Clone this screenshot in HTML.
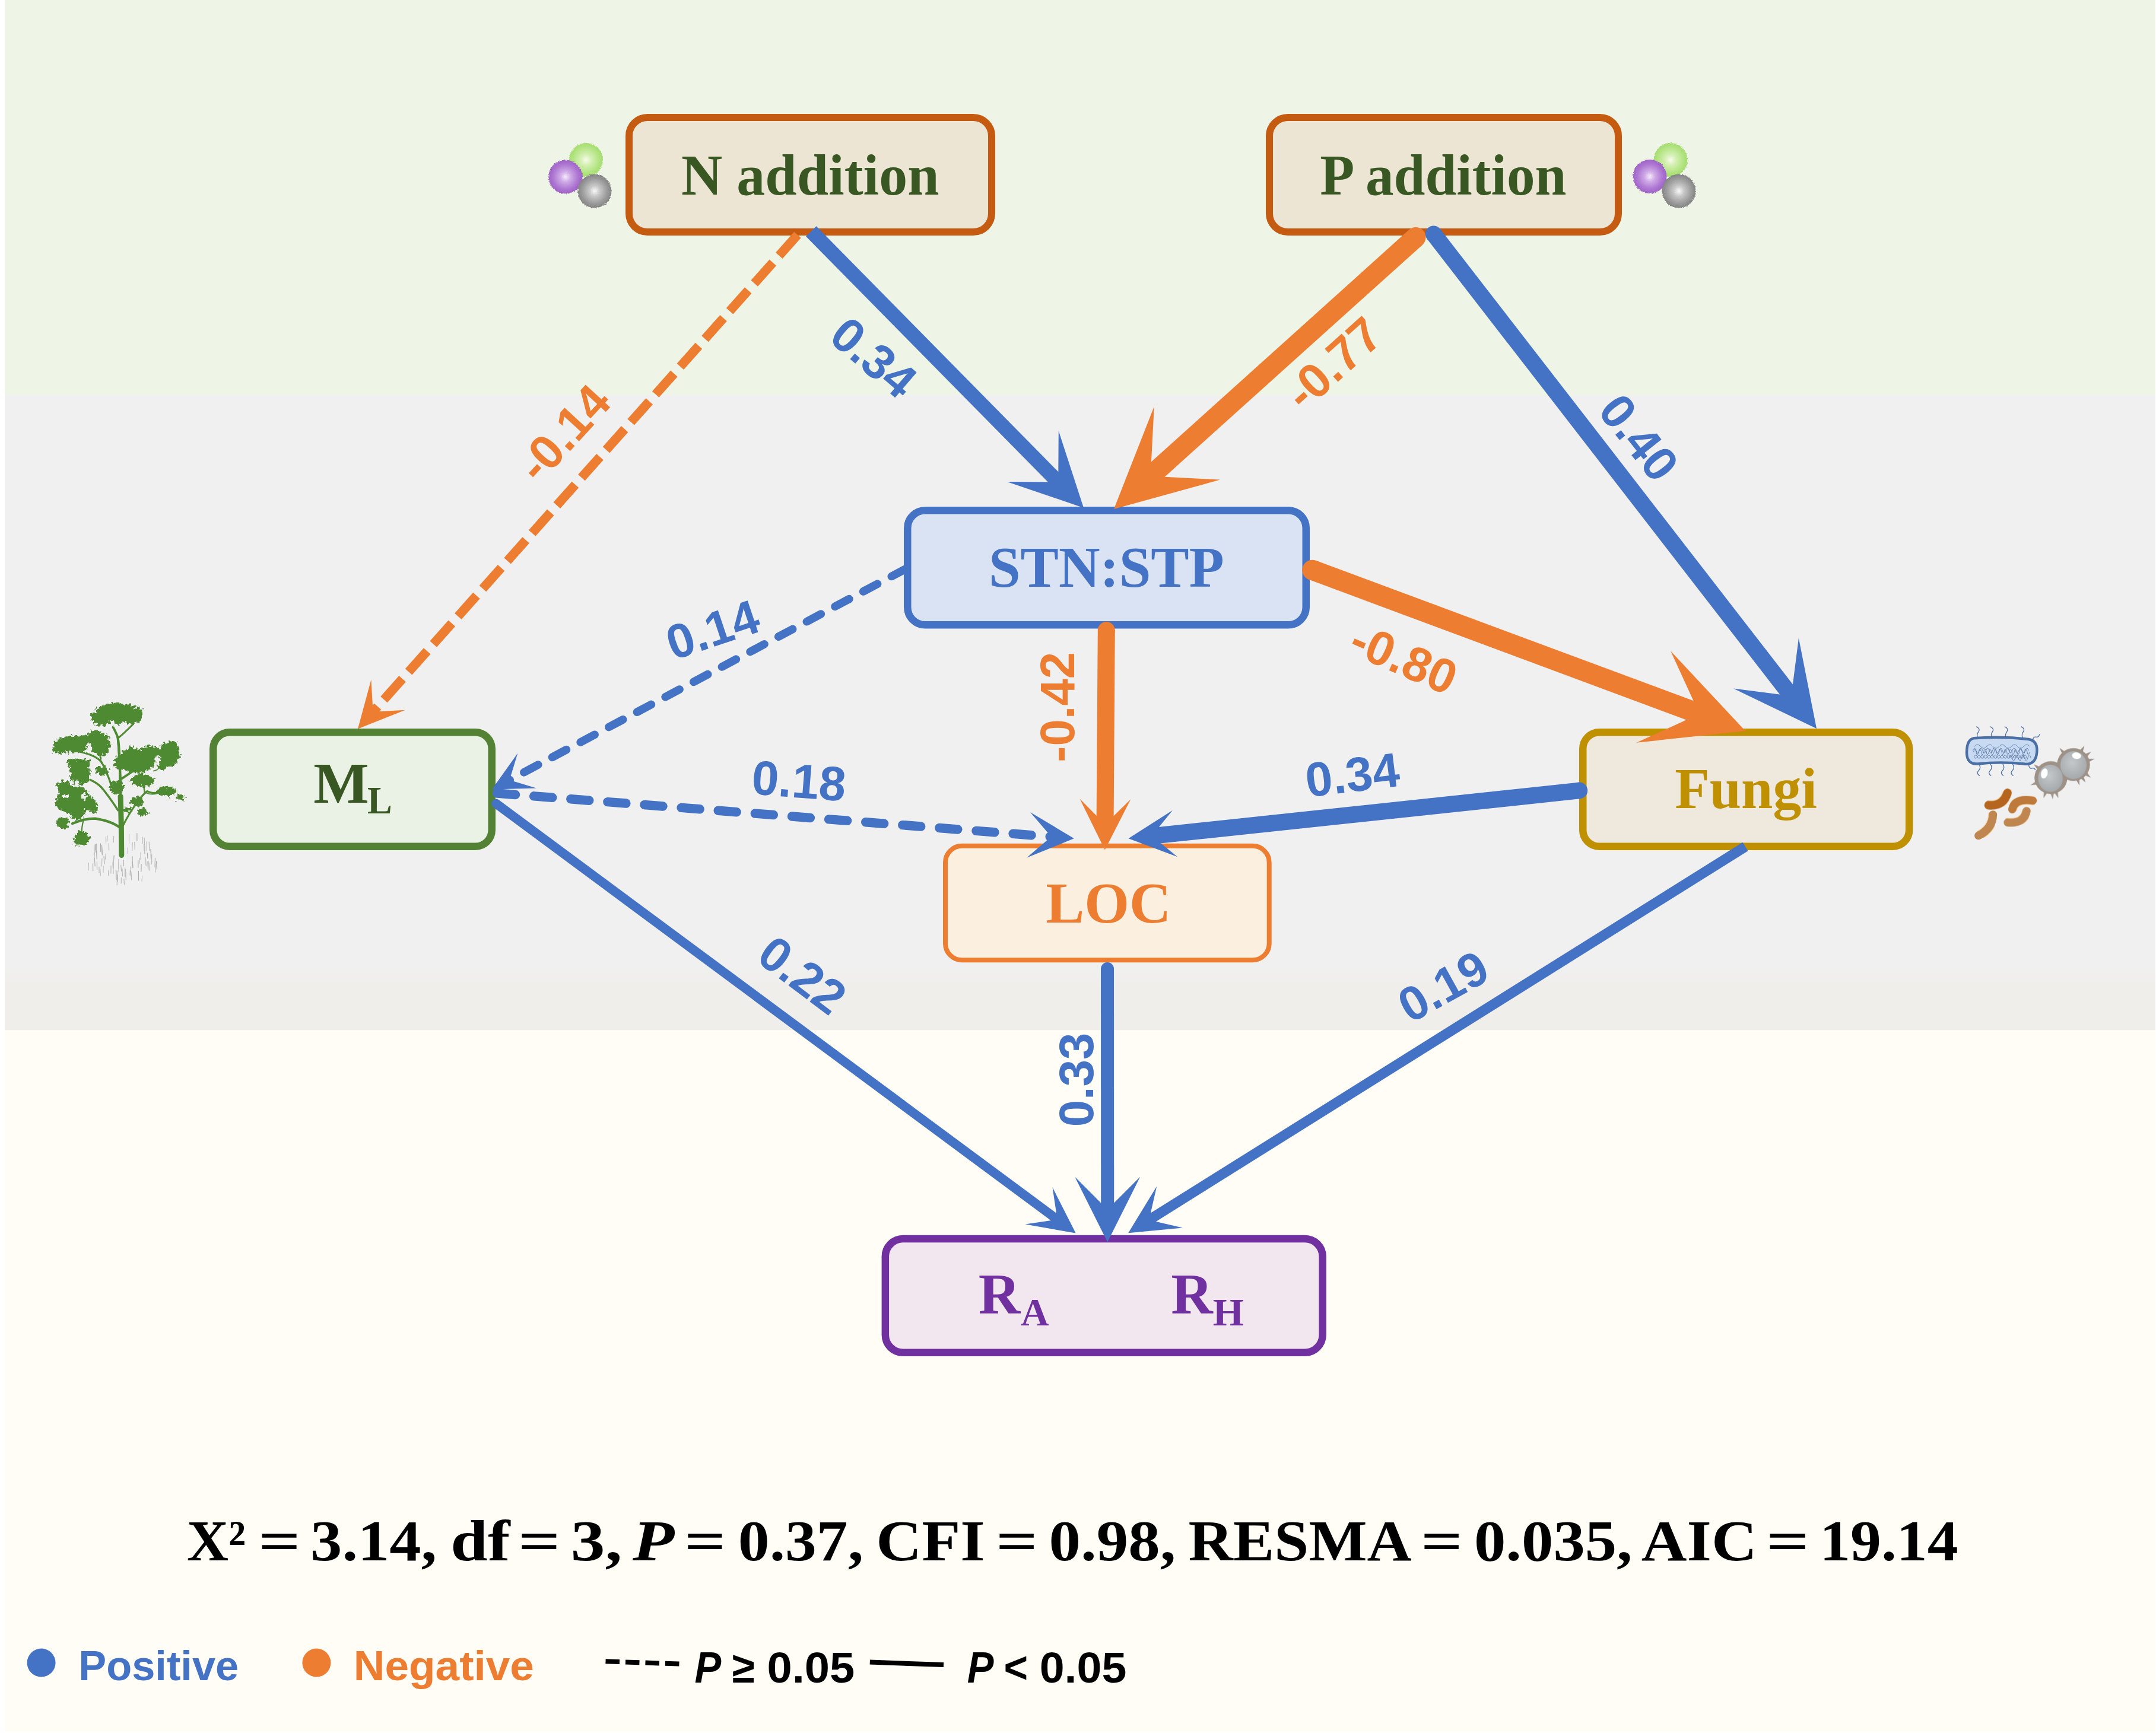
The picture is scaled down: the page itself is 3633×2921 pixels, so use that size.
<!DOCTYPE html>
<html><head><meta charset="utf-8"><title>SEM</title>
<style>html,body{margin:0;padding:0;background:#fff}svg{display:block}</style></head><body>
<svg width="3633" height="2921" viewBox="0 0 3633 2921">
<defs>
<radialGradient id="gGreen" cx="50%" cy="50%" r="52%"><stop offset="0" stop-color="#F8FCEC"/><stop offset="0.3" stop-color="#D5F0B4"/><stop offset="0.7" stop-color="#B5E585"/><stop offset="1" stop-color="#A2DB6C"/></radialGradient>
<radialGradient id="gGrey" cx="50%" cy="50%" r="52%"><stop offset="0" stop-color="#FAFAFA"/><stop offset="0.3" stop-color="#C8C8C8"/><stop offset="0.7" stop-color="#9C9C9C"/><stop offset="1" stop-color="#808080"/></radialGradient>
<radialGradient id="gPurple" cx="50%" cy="50%" r="52%"><stop offset="0" stop-color="#F6ECFB"/><stop offset="0.3" stop-color="#CFAAE6"/><stop offset="0.7" stop-color="#AE78D2"/><stop offset="1" stop-color="#9C5FC6"/></radialGradient>
<radialGradient id="gCoc" cx="45%" cy="40%" r="65%"><stop offset="0" stop-color="#C4C8CA"/><stop offset="1" stop-color="#A2A7AA"/></radialGradient>
<linearGradient id="gBand" x1="0" y1="0" x2="0" y2="1"><stop offset="0" stop-color="#F0F0F0"/><stop offset="0.9" stop-color="#F0F0F0"/><stop offset="0.93" stop-color="#EFEEEB"/><stop offset="1" stop-color="#EFEEEA"/></linearGradient>
<filter id="rough" x="-10%" y="-10%" width="120%" height="120%"><feTurbulence type="fractalNoise" baseFrequency="0.9" numOctaves="1" seed="3" result="n"/><feDisplacementMap in="SourceGraphic" in2="n" scale="5" xChannelSelector="R" yChannelSelector="G"/></filter>
<filter id="leafy" x="-10%" y="-10%" width="120%" height="120%"><feTurbulence type="fractalNoise" baseFrequency="0.045" numOctaves="3" seed="7" result="n"/><feDisplacementMap in="SourceGraphic" in2="n" scale="60" xChannelSelector="R" yChannelSelector="G"/></filter>
<filter id="fuzzy" x="-10%" y="-10%" width="120%" height="120%"><feTurbulence type="fractalNoise" baseFrequency="0.6" numOctaves="1" seed="5" result="n"/><feDisplacementMap in="SourceGraphic" in2="n" scale="4" xChannelSelector="R" yChannelSelector="G"/></filter>
</defs>
<rect x="0" y="0" width="3633" height="2921" fill="#FFFFFF"/>
<rect x="8" y="0" width="3624" height="667" fill="#EEF5E7"/>
<rect x="8" y="666" width="3624" height="1070.5" fill="url(#gBand)"/>
<rect x="8" y="1736.5" width="3624" height="1182.5" fill="#FFFDF6"/>
<rect x="1060.00" y="198.00" width="611.00" height="193.00" rx="31.0" fill="#ECE5D3" stroke="#C55A11" stroke-width="12"/>
<rect x="2139.00" y="198.00" width="588.00" height="193.00" rx="31.0" fill="#ECE5D3" stroke="#C55A11" stroke-width="12"/>
<rect x="1529.25" y="860.25" width="671.50" height="193.10" rx="29.8" fill="#DAE3F3" stroke="#4472C4" stroke-width="12.5"/>
<rect x="359.25" y="1234.25" width="469.50" height="192.50" rx="27.8" fill="#E9F2E4" stroke="#548235" stroke-width="12.5"/>
<rect x="2667.25" y="1234.25" width="549.90" height="192.50" rx="27.8" fill="#EFE8DD" stroke="#BF9000" stroke-width="12.5"/>
<rect x="1593.00" y="1425.80" width="545.70" height="192.40" rx="28.0" fill="#FBF0E0" stroke="#ED7D31" stroke-width="8"/>
<rect x="1491.85" y="2088.05" width="736.80" height="191.70" rx="29.8" fill="#F2E6EF" stroke="#7030A0" stroke-width="12.5"/>
<circle cx="987.5" cy="269.6" r="28.5" fill="url(#gGreen)" filter="url(#rough)"/>
<circle cx="952.8" cy="298" r="28.5" fill="url(#gPurple)" filter="url(#rough)"/>
<circle cx="1002" cy="322" r="28.5" fill="url(#gGrey)" filter="url(#rough)"/>
<circle cx="2815" cy="269.6" r="28.5" fill="url(#gGreen)" filter="url(#rough)"/>
<circle cx="2780" cy="297.5" r="28.5" fill="url(#gPurple)" filter="url(#rough)"/>
<circle cx="2829" cy="322" r="28.5" fill="url(#gGrey)" filter="url(#rough)"/>
<g transform="translate(60,1150) scale(0.21358)">
<line x1="654" y1="1395" x2="653" y2="1472" stroke="#C4C4C4" stroke-width="5"/><line x1="875" y1="1256" x2="876" y2="1329" stroke="#C4C4C4" stroke-width="5"/><line x1="841" y1="1220" x2="841" y2="1276" stroke="#A2A2A2" stroke-width="5"/><line x1="895" y1="1423" x2="898" y2="1489" stroke="#C4C4C4" stroke-width="5"/><line x1="765" y1="1416" x2="767" y2="1466" stroke="#A2A2A2" stroke-width="5"/><line x1="889" y1="1410" x2="888" y2="1482" stroke="#ABABAB" stroke-width="5"/><line x1="868" y1="1380" x2="864" y2="1447" stroke="#C4C4C4" stroke-width="5"/><line x1="452" y1="1431" x2="453" y2="1490" stroke="#A2A2A2" stroke-width="5"/><line x1="578" y1="1271" x2="579" y2="1326" stroke="#A2A2A2" stroke-width="5"/><line x1="565" y1="1210" x2="563" y2="1256" stroke="#A2A2A2" stroke-width="5"/><line x1="612" y1="1451" x2="614" y2="1511" stroke="#B6B6B6" stroke-width="5"/><line x1="553" y1="1218" x2="555" y2="1274" stroke="#C4C4C4" stroke-width="5"/><line x1="470" y1="1277" x2="470" y2="1326" stroke="#A2A2A2" stroke-width="5"/><line x1="673" y1="1441" x2="677" y2="1492" stroke="#B6B6B6" stroke-width="5"/><line x1="828" y1="1342" x2="828" y2="1401" stroke="#C4C4C4" stroke-width="5"/><line x1="522" y1="1286" x2="526" y2="1365" stroke="#ABABAB" stroke-width="5"/><line x1="953" y1="1411" x2="957" y2="1476" stroke="#A2A2A2" stroke-width="5"/><line x1="522" y1="1282" x2="525" y2="1354" stroke="#ABABAB" stroke-width="5"/><line x1="617" y1="1213" x2="614" y2="1265" stroke="#B6B6B6" stroke-width="5"/><line x1="608" y1="1418" x2="610" y2="1468" stroke="#C4C4C4" stroke-width="5"/><line x1="480" y1="1330" x2="483" y2="1397" stroke="#ABABAB" stroke-width="5"/><line x1="855" y1="1279" x2="856" y2="1330" stroke="#B6B6B6" stroke-width="5"/><line x1="619" y1="1366" x2="615" y2="1414" stroke="#A2A2A2" stroke-width="5"/><line x1="536" y1="1449" x2="534" y2="1503" stroke="#C4C4C4" stroke-width="5"/><line x1="501" y1="1455" x2="501" y2="1503" stroke="#B6B6B6" stroke-width="5"/><line x1="764" y1="1416" x2="768" y2="1464" stroke="#B6B6B6" stroke-width="5"/><line x1="553" y1="1352" x2="551" y2="1399" stroke="#B6B6B6" stroke-width="5"/><line x1="697" y1="1550" x2="700" y2="1598" stroke="#B6B6B6" stroke-width="5"/><line x1="944" y1="1431" x2="945" y2="1501" stroke="#B6B6B6" stroke-width="5"/><line x1="913" y1="1363" x2="917" y2="1421" stroke="#ABABAB" stroke-width="5"/><line x1="417" y1="1424" x2="415" y2="1485" stroke="#ABABAB" stroke-width="5"/><line x1="705" y1="1461" x2="708" y2="1538" stroke="#B6B6B6" stroke-width="5"/><line x1="908" y1="1317" x2="911" y2="1386" stroke="#A2A2A2" stroke-width="5"/><line x1="634" y1="1481" x2="635" y2="1557" stroke="#A2A2A2" stroke-width="5"/><line x1="615" y1="1404" x2="612" y2="1470" stroke="#A2A2A2" stroke-width="5"/><line x1="469" y1="1281" x2="468" y2="1341" stroke="#ABABAB" stroke-width="5"/><line x1="809" y1="1403" x2="809" y2="1463" stroke="#A2A2A2" stroke-width="5"/><line x1="834" y1="1433" x2="833" y2="1495" stroke="#A2A2A2" stroke-width="5"/><line x1="484" y1="1414" x2="485" y2="1478" stroke="#ABABAB" stroke-width="5"/><line x1="648" y1="1519" x2="646" y2="1576" stroke="#ABABAB" stroke-width="5"/><line x1="642" y1="1487" x2="641" y2="1564" stroke="#B6B6B6" stroke-width="5"/><line x1="726" y1="1304" x2="725" y2="1353" stroke="#C4C4C4" stroke-width="5"/><line x1="857" y1="1227" x2="860" y2="1289" stroke="#B6B6B6" stroke-width="5"/><line x1="615" y1="1380" x2="614" y2="1449" stroke="#C4C4C4" stroke-width="5"/><line x1="861" y1="1289" x2="861" y2="1356" stroke="#ABABAB" stroke-width="5"/><line x1="575" y1="1482" x2="574" y2="1527" stroke="#B6B6B6" stroke-width="5"/><line x1="509" y1="1473" x2="512" y2="1528" stroke="#B6B6B6" stroke-width="5"/><line x1="465" y1="1386" x2="469" y2="1453" stroke="#ABABAB" stroke-width="5"/><line x1="781" y1="1260" x2="783" y2="1321" stroke="#B6B6B6" stroke-width="5"/><line x1="820" y1="1386" x2="818" y2="1432" stroke="#B6B6B6" stroke-width="5"/><line x1="595" y1="1446" x2="594" y2="1510" stroke="#B6B6B6" stroke-width="5"/><line x1="841" y1="1525" x2="838" y2="1573" stroke="#C4C4C4" stroke-width="5"/><line x1="654" y1="1420" x2="655" y2="1496" stroke="#C4C4C4" stroke-width="5"/><line x1="764" y1="1373" x2="764" y2="1447" stroke="#ABABAB" stroke-width="5"/><line x1="763" y1="1262" x2="761" y2="1332" stroke="#A2A2A2" stroke-width="5"/><line x1="943" y1="1386" x2="941" y2="1459" stroke="#ABABAB" stroke-width="5"/><line x1="800" y1="1191" x2="800" y2="1254" stroke="#A2A2A2" stroke-width="5"/><line x1="708" y1="1473" x2="705" y2="1535" stroke="#A2A2A2" stroke-width="5"/><line x1="882" y1="1346" x2="884" y2="1392" stroke="#ABABAB" stroke-width="5"/><line x1="909" y1="1361" x2="912" y2="1441" stroke="#C4C4C4" stroke-width="5"/><line x1="676" y1="1541" x2="675" y2="1589" stroke="#B6B6B6" stroke-width="5"/><line x1="712" y1="1497" x2="713" y2="1561" stroke="#B6B6B6" stroke-width="5"/><line x1="869" y1="1395" x2="873" y2="1451" stroke="#C4C4C4" stroke-width="5"/><line x1="884" y1="1414" x2="887" y2="1469" stroke="#B6B6B6" stroke-width="5"/><line x1="693" y1="1400" x2="693" y2="1452" stroke="#A2A2A2" stroke-width="5"/><line x1="738" y1="1195" x2="738" y2="1274" stroke="#C4C4C4" stroke-width="5"/><line x1="917" y1="1357" x2="915" y2="1434" stroke="#C4C4C4" stroke-width="5"/><line x1="644" y1="1491" x2="644" y2="1567" stroke="#C4C4C4" stroke-width="5"/><line x1="465" y1="1342" x2="462" y2="1388" stroke="#ABABAB" stroke-width="5"/><line x1="512" y1="1270" x2="514" y2="1339" stroke="#ABABAB" stroke-width="5"/><line x1="539" y1="1372" x2="542" y2="1435" stroke="#A2A2A2" stroke-width="5"/><line x1="748" y1="1454" x2="744" y2="1524" stroke="#C4C4C4" stroke-width="5"/><line x1="753" y1="1494" x2="756" y2="1561" stroke="#B6B6B6" stroke-width="5"/><line x1="524" y1="1389" x2="522" y2="1454" stroke="#B6B6B6" stroke-width="5"/><line x1="812" y1="1489" x2="813" y2="1566" stroke="#ABABAB" stroke-width="5"/><line x1="895" y1="1258" x2="898" y2="1330" stroke="#B6B6B6" stroke-width="5"/><line x1="479" y1="1275" x2="478" y2="1345" stroke="#ABABAB" stroke-width="5"/><line x1="644" y1="1538" x2="642" y2="1602" stroke="#B6B6B6" stroke-width="5"/><line x1="750" y1="1485" x2="754" y2="1533" stroke="#ABABAB" stroke-width="5"/><line x1="683" y1="1469" x2="686" y2="1532" stroke="#B6B6B6" stroke-width="5"/>
<g fill="none" stroke="#4D8A32" stroke-linecap="round" stroke-linejoin="round">
<path d="M678 1365 L676 1150 Q673 1000 670 900" stroke-width="42"/><path d="M672 1000 Q670 800 664 640 Q660 520 648 430" stroke-width="20"/>
<path d="M668 800 Q662 600 650 440 Q630 380 590 320" stroke-width="18"/>
<path d="M652 440 Q700 400 770 330" stroke-width="14"/>
<path d="M670 1150 Q600 1095 470 1075 Q380 1075 290 1115" stroke-width="20"/>
<path d="M380 1080 Q360 1150 365 1200" stroke-width="10"/>
<path d="M650 1010 Q580 900 520 830 Q480 790 430 770" stroke-width="16"/>
<path d="M600 820 Q560 700 520 630 Q470 570 330 545" stroke-width="15"/>
<path d="M520 640 Q500 560 510 520" stroke-width="11"/>
<path d="M690 1130 Q740 1030 800 950 Q850 880 880 860 Q920 880 960 870" stroke-width="15"/>
<path d="M680 760 Q740 720 800 680" stroke-width="18"/>
<path d="M860 870 Q850 800 850 780" stroke-width="11"/>
<path d="M930 700 Q980 690 1010 630" stroke-width="7"/>
<path d="M860 870 Q930 900 1000 860" stroke-width="8"/>
</g>
<g fill="#4D8A32" filter="url(#leafy)">
<ellipse cx="640" cy="245" rx="175" ry="83"/>
<ellipse cx="520" cy="295" rx="74" ry="45"/>
<ellipse cx="760" cy="292" rx="66" ry="40"/>
<ellipse cx="470" cy="270" rx="37" ry="40"/>
<ellipse cx="810" cy="250" rx="32" ry="54"/>
<ellipse cx="290" cy="490" rx="145" ry="65"/>
<ellipse cx="185" cy="535" rx="57" ry="25"/>
<ellipse cx="400" cy="450" rx="55" ry="40"/>
<ellipse cx="510" cy="490" rx="75" ry="94"/>
<ellipse cx="460" cy="420" rx="46" ry="40"/>
<ellipse cx="350" cy="712" rx="81" ry="101"/>
<ellipse cx="300" cy="640" rx="53" ry="36"/>
<ellipse cx="400" cy="640" rx="37" ry="32"/>
<ellipse cx="300" cy="930" rx="136" ry="115"/>
<ellipse cx="220" cy="820" rx="55" ry="40"/>
<ellipse cx="430" cy="955" rx="57" ry="45"/>
<ellipse cx="330" cy="1050" rx="55" ry="32"/>
<ellipse cx="200" cy="960" rx="46" ry="36"/>
<ellipse cx="215" cy="1110" rx="51" ry="43"/>
<ellipse cx="365" cy="1228" rx="59" ry="54"/>
<ellipse cx="330" cy="1265" rx="28" ry="27"/>
<ellipse cx="790" cy="620" rx="155" ry="94"/>
<ellipse cx="900" cy="552" rx="74" ry="50"/>
<ellipse cx="680" cy="640" rx="64" ry="45"/>
<ellipse cx="760" cy="540" rx="37" ry="27"/>
<ellipse cx="1050" cy="572" rx="85" ry="97"/>
<ellipse cx="1080" cy="500" rx="48" ry="36"/>
<ellipse cx="1000" cy="640" rx="37" ry="54"/>
<ellipse cx="845" cy="775" rx="92" ry="50"/>
<ellipse cx="1030" cy="860" rx="75" ry="40"/>
<ellipse cx="1140" cy="905" rx="39" ry="22"/>
<ellipse cx="640" cy="830" rx="57" ry="52"/>
<ellipse cx="800" cy="940" rx="52" ry="41"/>
<ellipse cx="845" cy="1025" rx="40" ry="34"/>
<ellipse cx="730" cy="1005" rx="37" ry="22"/>
<ellipse cx="525" cy="700" rx="51" ry="36"/>
<ellipse cx="450" cy="1000" rx="46" ry="25"/>
</g>
<g fill="#F0F0F0" filter="url(#leafy)">
<ellipse cx="420" cy="520" rx="22" ry="40"/>
<ellipse cx="600" cy="330" rx="22" ry="30"/>
<ellipse cx="700" cy="330" rx="18" ry="28"/>
<ellipse cx="330" cy="800" rx="18" ry="35"/>
<ellipse cx="380" cy="900" rx="20" ry="25"/>
<ellipse cx="965" cy="610" rx="16" ry="40"/>
<ellipse cx="230" cy="900" rx="25" ry="14"/>
<ellipse cx="620" cy="560" rx="14" ry="40"/>
</g></g>
<g transform="translate(3280,1200) scale(0.138485)">
<g fill="none" stroke="#4A6FA5" stroke-width="9" stroke-linecap="round">
<path d="M385 320 q-25 -45 5 -80 q25 -35 -25 -60"/>
<path d="M555 320 q-25 -45 5 -80 q25 -35 -25 -60"/>
<path d="M730 320 q-25 -45 5 -80 q25 -35 -25 -60"/>
<path d="M930 320 q-25 -45 5 -80 q25 -35 -25 -60"/>
<path d="M1050 350 q0 -50 40 -45 q35 5 40 -30"/>
<path d="M395 635 q30 45 -5 80 q-30 30 10 60"/>
<path d="M535 635 q30 45 -5 80 q-30 30 10 60"/>
<path d="M685 635 q30 45 -5 80 q-30 30 10 60"/>
<path d="M805 635 q30 45 -5 80 q-30 30 10 60"/>
<path d="M1000 640 q5 55 40 45 q30 -10 40 20"/>
</g>
<path d="M330 320 Q660 292 1000 332 Q1108 352 1100 480 Q1090 642 960 634 Q660 600 380 632 Q240 640 246 480 Q250 336 330 320 Z" fill="#C7DAF1" stroke="#4A6FA5" stroke-width="32"/>
<g fill="none" stroke="#3F5F93" stroke-width="5"><path d="M320 470 q20 -60 40 0 q20 60 40 0 q20 -60 40 0 q20 60 40 0 q20 -60 40 0 q20 60 40 0 q20 -60 40 0 q20 60 40 0 q20 -60 40 0 q20 60 40 0 q20 -60 40 0 q20 60 40 0 q20 -60 40 0 q20 60 40 0 q20 -60 40 0 q20 60 40 0 q20 -60 40 0"/><path d="M335 545 q20 40 40 0 q20 -40 40 0 q20 40 40 0 q20 -40 40 0 q20 40 40 0 q20 -40 40 0 q20 40 40 0 q20 -40 40 0 q20 40 40 0 q20 -40 40 0 q20 40 40 0 q20 -40 40 0 q20 40 40 0 q20 -40 40 0 q20 40 40 0 q20 -40 40 0"/><path d="M335 545 q20 -40 40 0 q20 40 40 0 q20 -40 40 0 q20 40 40 0 q20 -40 40 0 q20 40 40 0 q20 -40 40 0 q20 40 40 0 q20 -40 40 0 q20 40 40 0 q20 -40 40 0 q20 40 40 0 q20 -40 40 0 q20 40 40 0 q20 -40 40 0 q20 40 40 0"/><path d="M340 420 q35 -45 75 0 q35 45 75 0 q35 -45 75 0 q35 45 75 0 q35 -45 75 0 q35 45 75 0 q35 -45 75 0 q35 45 75 0 q35 -45 75 0"/><path d="M330 490 q8 -70 31 -8 q8 70 31 8 q8 -70 31 -8 q8 70 31 8 q8 -70 31 -8 q8 70 31 8 q8 -70 31 -8 q8 70 31 8 q8 -70 31 -8 q8 70 31 8 q8 -70 31 -8 q8 70 31 8 q8 -70 31 -8 q8 70 31 8 q8 -70 31 -8 q8 70 31 8 q8 -70 31 -8 q8 70 31 8 q8 -70 31 -8 q8 70 31 8 q8 -70 31 -8 q8 70 31 8"/><path d="M760 560 q20 -70 38 0 q20 70 38 0 q20 -70 38 0 q20 70 38 0 q20 -70 38 0 q20 70 38 0 q20 -70 38 0"/></g>
<g filter="url(#fuzzy)"><circle cx="1545" cy="640" r="200" fill="#9E9288"/><circle cx="1270" cy="800" r="200" fill="#9E9288"/>
<path transform="translate(1426,498) rotate(-130)" d="M0 -22 L80 0 L0 22 Z" fill="#9E9288"/>
<path transform="translate(1695,531) rotate(-36)" d="M0 -22 L80 0 L0 22 Z" fill="#9E9288"/>
<path transform="translate(1724,592) rotate(-15)" d="M0 -22 L80 0 L0 22 Z" fill="#9E9288"/>
<path transform="translate(1693,751) rotate(37)" d="M0 -22 L80 0 L0 22 Z" fill="#9E9288"/>
<path transform="translate(1648,793) rotate(56)" d="M0 -22 L80 0 L0 22 Z" fill="#9E9288"/>
<path transform="translate(1596,818) rotate(74)" d="M0 -22 L80 0 L0 22 Z" fill="#9E9288"/>
<path transform="translate(1638,480) rotate(-60)" d="M0 -22 L80 0 L0 22 Z" fill="#9E9288"/>
<path transform="translate(1124,686) rotate(-142)" d="M0 -22 L80 0 L0 22 Z" fill="#9E9288"/>
<path transform="translate(1286,984) rotate(85)" d="M0 -22 L80 0 L0 22 Z" fill="#9E9288"/>
<path transform="translate(1333,974) rotate(70)" d="M0 -22 L80 0 L0 22 Z" fill="#9E9288"/>
<path transform="translate(1207,974) rotate(110)" d="M0 -22 L80 0 L0 22 Z" fill="#9E9288"/>
<path transform="translate(1096,863) rotate(160)" d="M0 -22 L80 0 L0 22 Z" fill="#9E9288"/>
</g>
<ellipse cx="1545" cy="648" rx="160" ry="170" fill="url(#gCoc)"/>
<ellipse cx="1265" cy="808" rx="150" ry="165" fill="url(#gCoc)"/>
<ellipse cx="1582" cy="532" rx="56" ry="40" fill="#FFFFFF" transform="rotate(10 1582 532)"/>
<ellipse cx="1190" cy="748" rx="40" ry="62" fill="#FFFFFF" transform="rotate(15 1190 748)"/>
<path d="M565 1250 Q560 1420 390 1505" fill="none" stroke="#F4CF9C" stroke-width="116" stroke-linecap="round" filter="url(#fuzzy)"/><path d="M565 1250 Q560 1420 390 1505" fill="none" stroke="#C08650" stroke-width="100" stroke-linecap="round"/>
<path d="M745 1345 Q940 1365 975 1205" fill="none" stroke="#F4CF9C" stroke-width="114" stroke-linecap="round" filter="url(#fuzzy)"/><path d="M745 1345 Q940 1365 975 1205" fill="none" stroke="#C08650" stroke-width="98" stroke-linecap="round"/>
<path d="M800 1185 Q830 1045 1050 1078" fill="none" stroke="#F4CF9C" stroke-width="114" stroke-linecap="round" filter="url(#fuzzy)"/><path d="M800 1185 Q830 1045 1050 1078" fill="none" stroke="#BE7A3A" stroke-width="98" stroke-linecap="round"/>
<path d="M512 1135 Q690 1150 742 985" fill="none" stroke="#F4CF9C" stroke-width="120" stroke-linecap="round" filter="url(#fuzzy)"/><path d="M512 1135 Q690 1150 742 985" fill="none" stroke="#B5651D" stroke-width="104" stroke-linecap="round"/>
</g>
<line x1="1343.9" y1="395.9" x2="624.5" y2="1204.4" stroke="#ED7D31" stroke-width="15.5" stroke-linecap="butt" stroke-dasharray="46.8 15.8"/>
<polygon points="603.0,1228.6 625.4,1145.5 628.6,1199.8 682.9,1196.7" fill="#ED7D31"/>
<line x1="1366.8" y1="389.9" x2="1790.0" y2="819.5" stroke="#4472C4" stroke-width="24.5" stroke-linecap="butt"/>
<polygon points="1826.0,856.0 1696.9,811.9 1783.2,812.5 1783.8,726.3" fill="#4472C4"/>
<line x1="2385.6" y1="400.0" x2="1928.8" y2="811.3" stroke="#ED7D31" stroke-width="34" stroke-linecap="butt"/>
<circle cx="2385.6" cy="400.0" r="17.00" fill="#ED7D31"/>
<polygon points="1877.0,858.0 1944.8,685.2 1938.7,802.5 2055.9,808.6" fill="#ED7D31"/>
<line x1="2415.7" y1="394.3" x2="3025.3" y2="1181.8" stroke="#4472C4" stroke-width="27.8" stroke-linecap="butt"/>
<circle cx="2415.7" cy="394.3" r="13.90" fill="#4472C4"/>
<polygon points="3061.0,1228.0 2921.0,1160.6 3018.5,1173.0 3030.9,1075.5" fill="#4472C4"/>
<line x1="1526.2" y1="958.8" x2="853.8" y2="1317.3" stroke="#4472C4" stroke-width="13.7" stroke-linecap="round" stroke-dasharray="27 27"/>
<polygon points="829.0,1330.5 872.4,1269.4 858.6,1314.7 903.9,1328.5" fill="#4472C4"/>
<line x1="1864.3" y1="1062.5" x2="1862.0" y2="1396.5" stroke="#ED7D31" stroke-width="29" stroke-linecap="butt"/>
<circle cx="1864.3" cy="1062.5" r="14.50" fill="#ED7D31"/>
<polygon points="1861.8,1432.6 1819.4,1346.3 1862.1,1389.6 1905.4,1346.9" fill="#ED7D31"/>
<line x1="2211.4" y1="960.8" x2="2876.0" y2="1207.9" stroke="#ED7D31" stroke-width="34.3" stroke-linecap="butt"/>
<circle cx="2211.4" cy="960.8" r="17.15" fill="#ED7D31"/>
<polygon points="2941.0,1232.0 2757.6,1251.8 2863.7,1203.3 2815.1,1097.2" fill="#ED7D31"/>
<line x1="2661.3" y1="1332.5" x2="1934.5" y2="1409.8" stroke="#4472C4" stroke-width="27.8" stroke-linecap="butt"/>
<circle cx="2661.3" cy="1332.5" r="13.90" fill="#4472C4"/>
<polygon points="1901.5,1413.3 1975.9,1365.7 1940.8,1409.1 1984.2,1444.2" fill="#4472C4"/>
<line x1="837.6" y1="1337.0" x2="1777.6" y2="1410.8" stroke="#4472C4" stroke-width="15.5" stroke-linecap="round" stroke-dasharray="31 31.3"/>
<polygon points="1809.8,1413.3 1730.0,1445.7 1771.4,1410.3 1736.0,1368.9" fill="#4472C4"/>
<line x1="836.0" y1="1354.5" x2="1786.6" y2="2059.2" stroke="#4472C4" stroke-width="15.5" stroke-linecap="butt"/>
<circle cx="836.0" cy="1354.5" r="7.75" fill="#4472C4"/>
<polygon points="1812.7,2078.6 1727.4,2063.6 1781.6,2055.5 1773.5,2001.3" fill="#4472C4"/>
<line x1="1866.0" y1="1633.0" x2="1866.2" y2="2047.4" stroke="#4472C4" stroke-width="22" stroke-linecap="butt"/>
<circle cx="1866.0" cy="1633.0" r="11.00" fill="#4472C4"/>
<polygon points="1866.2,2093.6 1811.2,1983.6 1866.2,2038.6 1921.2,1983.6" fill="#4472C4"/>
<line x1="2941.0" y1="1427.0" x2="1930.6" y2="2059.8" stroke="#4472C4" stroke-width="17" stroke-linecap="butt"/>
<polygon points="1901.2,2078.2 1949.2,1999.5 1936.2,2056.3 1993.0,2069.4" fill="#4472C4"/>
<text transform="translate(970.7,749.1) rotate(-47.5)" x="0" y="0" text-anchor="middle" style="font-family:'Liberation Sans',sans-serif;font-weight:bold;font-size:81.5px" fill="#ED7D31">-0.14</text>
<text transform="translate(1454.0,623.9) rotate(40.5)" x="0" y="0" text-anchor="middle" style="font-family:'Liberation Sans',sans-serif;font-weight:bold;font-size:81.5px" fill="#4472C4">0.34</text>
<text transform="translate(2265.7,633.6) rotate(-42)" x="0" y="0" text-anchor="middle" style="font-family:'Liberation Sans',sans-serif;font-weight:bold;font-size:81.5px" fill="#ED7D31">-0.77</text>
<text transform="translate(2739.6,755.2) rotate(51.5)" x="0" y="0" text-anchor="middle" style="font-family:'Liberation Sans',sans-serif;font-weight:bold;font-size:81.5px" fill="#4472C4">0.40</text>
<text transform="translate(1209.7,1088.0) rotate(-18.5)" x="0" y="0" text-anchor="middle" style="font-family:'Liberation Sans',sans-serif;font-weight:bold;font-size:81.5px" fill="#4472C4">0.14</text>
<text transform="translate(1810.4,1191.8) rotate(-90)" x="0" y="0" text-anchor="middle" style="font-family:'Liberation Sans',sans-serif;font-weight:bold;font-size:81.5px" fill="#ED7D31">-0.42</text>
<text transform="translate(2354.5,1135.9) rotate(23.5)" x="0" y="0" text-anchor="middle" style="font-family:'Liberation Sans',sans-serif;font-weight:bold;font-size:81.5px" fill="#ED7D31">-0.80</text>
<text transform="translate(1344.0,1344.3) rotate(4.5)" x="0" y="0" text-anchor="middle" style="font-family:'Liberation Sans',sans-serif;font-weight:bold;font-size:81.5px" fill="#4472C4">0.18</text>
<text transform="translate(2282.2,1334.2) rotate(-7)" x="0" y="0" text-anchor="middle" style="font-family:'Liberation Sans',sans-serif;font-weight:bold;font-size:81.5px" fill="#4472C4">0.34</text>
<text transform="translate(1335.2,1666.1) rotate(37)" x="0" y="0" text-anchor="middle" style="font-family:'Liberation Sans',sans-serif;font-weight:bold;font-size:81.5px" fill="#4472C4">0.22</text>
<text transform="translate(1841.8,1820.0) rotate(-90)" x="0" y="0" text-anchor="middle" style="font-family:'Liberation Sans',sans-serif;font-weight:bold;font-size:81.5px" fill="#4472C4">0.33</text>
<text transform="translate(2445.5,1687.2) rotate(-29)" x="0" y="0" text-anchor="middle" style="font-family:'Liberation Sans',sans-serif;font-weight:bold;font-size:81.5px" fill="#4472C4">0.19</text>
<text transform="translate(1148.08,327.7) scale(0.9890,1)" style="font-family:'Liberation Serif',serif;font-weight:bold;font-size:97px" fill="#385723">N addition</text>
<text transform="translate(2224.33,327.7) scale(0.9809,1)" style="font-family:'Liberation Serif',serif;font-weight:bold;font-size:97px" fill="#385723">P addition</text>
<text transform="translate(1665.94,989.3) scale(0.9945,1)" style="font-family:'Liberation Serif',serif;font-weight:bold;font-size:97px" fill="#4472C4">STN:STP</text>
<text transform="translate(528.26,1352.6) scale(1.0223,1)" style="font-family:'Liberation Serif',serif;font-weight:bold;font-size:97px" fill="#385723">M</text>
<text transform="translate(618.91,1371) scale(0.9623,1)" style="font-family:'Liberation Serif',serif;font-weight:bold;font-size:65px" fill="#385723">L</text>
<text transform="translate(2822.32,1362.3) scale(0.9877,1)" style="font-family:'Liberation Serif',serif;font-weight:bold;font-size:97px" fill="#BF9000">Fungi</text>
<text transform="translate(1762.30,1555) scale(1.0033,1)" style="font-family:'Liberation Serif',serif;font-weight:bold;font-size:97px" fill="#ED7D31">LOC</text>
<text transform="translate(1648.79,2214) scale(1.0056,1)" style="font-family:'Liberation Serif',serif;font-weight:bold;font-size:97px" fill="#7030A0">R</text>
<text transform="translate(1720.35,2234) scale(1.0038,1)" style="font-family:'Liberation Serif',serif;font-weight:bold;font-size:65px" fill="#7030A0">A</text>
<text transform="translate(1973.29,2214) scale(1.0056,1)" style="font-family:'Liberation Serif',serif;font-weight:bold;font-size:97px" fill="#7030A0">R</text>
<text transform="translate(2043.83,2234) scale(1.0325,1)" style="font-family:'Liberation Serif',serif;font-weight:bold;font-size:65px" fill="#7030A0">H</text>
<text transform="translate(315.00,2630) scale(0.9908,1)" style="font-family:'Liberation Serif',serif;font-weight:bold;font-size:98px" fill="#000">X²</text>
<text transform="translate(435.47,2630) scale(1.2706,1)" style="font-family:'Liberation Serif',serif;font-weight:bold;font-size:98px" fill="#000">=</text>
<text transform="translate(523.10,2630) scale(1.0877,1)" style="font-family:'Liberation Serif',serif;font-weight:bold;font-size:98px" fill="#000">3.14,</text>
<text transform="translate(759.30,2630) scale(1.1483,1)" style="font-family:'Liberation Serif',serif;font-weight:bold;font-size:98px" fill="#000">df</text>
<text transform="translate(873.37,2630) scale(1.2706,1)" style="font-family:'Liberation Serif',serif;font-weight:bold;font-size:98px" fill="#000">=</text>
<text transform="translate(961.67,2630) scale(1.1791,1)" style="font-family:'Liberation Serif',serif;font-weight:bold;font-size:98px" fill="#000">3,</text>
<text transform="translate(1066.00,2630) scale(1.1766,1)" style="font-family:'Liberation Serif',serif;font-weight:bold;font-size:98px;font-style:italic" fill="#000">P</text>
<text transform="translate(1153.36,2630) scale(1.2530,1)" style="font-family:'Liberation Serif',serif;font-weight:bold;font-size:98px" fill="#000">=</text>
<text transform="translate(1243.84,2630) scale(1.0777,1)" style="font-family:'Liberation Serif',serif;font-weight:bold;font-size:98px" fill="#000">0.37,</text>
<text transform="translate(1476.27,2630) scale(1.0868,1)" style="font-family:'Liberation Serif',serif;font-weight:bold;font-size:98px" fill="#000">CFI</text>
<text transform="translate(1678.32,2630) scale(1.2618,1)" style="font-family:'Liberation Serif',serif;font-weight:bold;font-size:98px" fill="#000">=</text>
<text transform="translate(1767.49,2630) scale(1.0920,1)" style="font-family:'Liberation Serif',serif;font-weight:bold;font-size:98px" fill="#000">0.98,</text>
<text transform="translate(2002.38,2630) scale(1.0638,1)" style="font-family:'Liberation Serif',serif;font-weight:bold;font-size:98px" fill="#000">RESMA</text>
<text transform="translate(2394.32,2630) scale(1.2618,1)" style="font-family:'Liberation Serif',serif;font-weight:bold;font-size:98px" fill="#000">=</text>
<text transform="translate(2484.00,2630) scale(1.0890,1)" style="font-family:'Liberation Serif',serif;font-weight:bold;font-size:98px" fill="#000">0.035,</text>
<text transform="translate(2765.84,2630) scale(1.0843,1)" style="font-family:'Liberation Serif',serif;font-weight:bold;font-size:98px" fill="#000">AIC</text>
<text transform="translate(2976.32,2630) scale(1.3013,1)" style="font-family:'Liberation Serif',serif;font-weight:bold;font-size:98px" fill="#000">=</text>
<text transform="translate(3066.20,2630) scale(1.0586,1)" style="font-family:'Liberation Serif',serif;font-weight:bold;font-size:98px" fill="#000">19.14</text>
<circle cx="69.6" cy="2802.6" r="24" fill="#4472C4"/>
<text transform="translate(132.25,2832.2) scale(1.0059,1)" style="font-family:'Liberation Sans',sans-serif;font-weight:bold;font-size:70px" fill="#4472C4">Positive</text>
<circle cx="533.4" cy="2802.6" r="24" fill="#ED7D31"/>
<text transform="translate(595.67,2832.2) scale(1.0428,1)" style="font-family:'Liberation Sans',sans-serif;font-weight:bold;font-size:70px" fill="#ED7D31">Negative</text>
<line x1="1020.5" y1="2800.2" x2="1145" y2="2804.6" stroke="#000" stroke-width="8" stroke-dasharray="23.5 10"/>
<text transform="translate(1170.53,2836) scale(0.9064,1)" style="font-family:'Liberation Sans',sans-serif;font-weight:bold;font-size:74px;font-style:italic" fill="#000">P</text>
<text transform="translate(1233.57,2836) scale(0.9378,1)" style="font-family:'Liberation Sans',sans-serif;font-weight:bold;font-size:74px" fill="#000">≥</text>
<text transform="translate(1292.46,2836) scale(1.0542,1)" style="font-family:'Liberation Sans',sans-serif;font-weight:bold;font-size:72px" fill="#000">0.05</text>
<line x1="1465.8" y1="2801.6" x2="1590" y2="2806" stroke="#000" stroke-width="8"/>
<text transform="translate(1629.73,2836) scale(0.9064,1)" style="font-family:'Liberation Sans',sans-serif;font-weight:bold;font-size:74px;font-style:italic" fill="#000">P</text>
<text transform="translate(1691.44,2836) scale(0.9405,1)" style="font-family:'Liberation Sans',sans-serif;font-weight:bold;font-size:74px" fill="#000">&lt;</text>
<text transform="translate(1751.69,2836) scale(1.0468,1)" style="font-family:'Liberation Sans',sans-serif;font-weight:bold;font-size:72px" fill="#000">0.05</text>
</svg></body></html>
